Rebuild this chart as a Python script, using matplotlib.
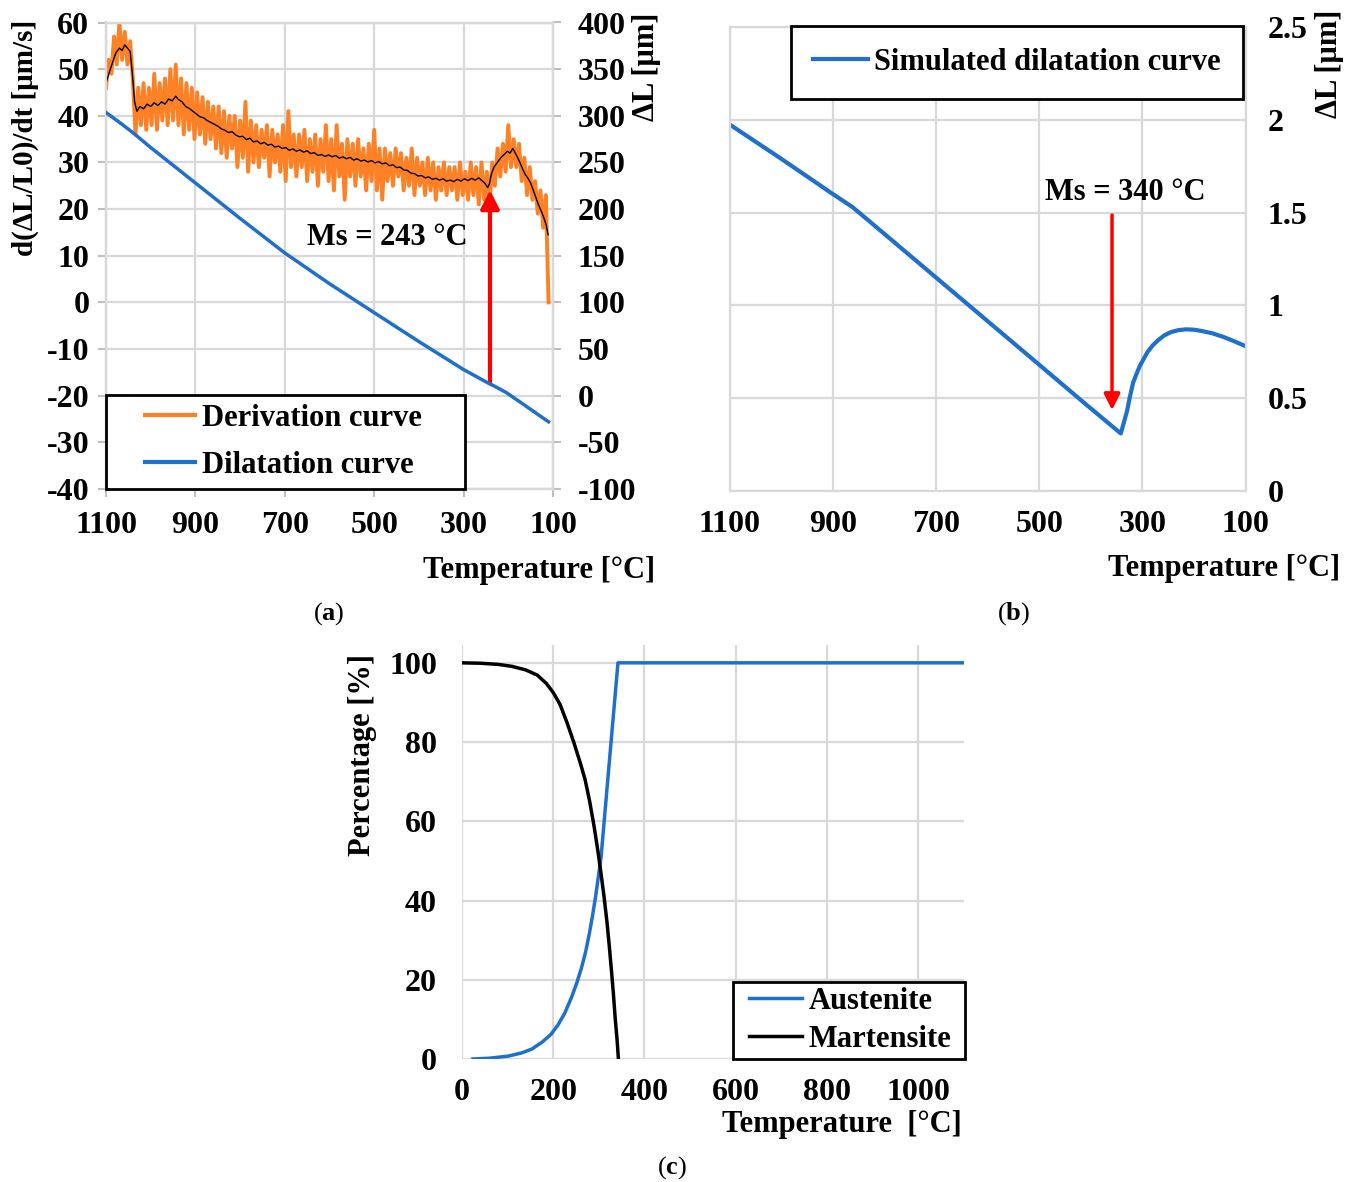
import numpy as np
import matplotlib
matplotlib.use("Agg")
import matplotlib.pyplot as plt
from matplotlib.lines import Line2D
from matplotlib.legend_handler import HandlerLine2D

plt.rcParams['font.family'] = ['Liberation Serif', 'DejaVu Serif']
plt.rcParams['font.weight'] = 'bold'
plt.rcParams['axes.labelweight'] = 'bold'
plt.rcParams['axes.unicode_minus'] = False
plt.rcParams['mathtext.fontset'] = 'custom'
plt.rcParams['mathtext.bf'] = 'Liberation Serif:bold'
plt.rcParams['mathtext.rm'] = 'Liberation Serif'

ORANGE = '#ff8126'
BLUE = '#1f6fcc'
GRID = '#d9d9d9'

# ---------------- data: panel (a) ----------------
# raw derivative (noisy) values, every 6 degC from 1100 down to 110
deriv_raw = [46, 52, 49, 57, 51, 60, 52, 58, 51, 56,
             48, 36, 46, 38, 47, 37, 46, 38, 49, 37, 47, 39, 48, 38, 50, 39, 51,
             38, 48, 36, 47, 37, 46, 35,
             45, 36, 44, 34, 43, 35, 42, 33, 42, 32,
             41, 31, 40, 33, 40, 29, 39, 31, 43, 28, 39,
             30, 38, 29, 37, 31, 38, 27, 37, 30, 36, 28, 38, 26,
             41, 29, 36, 27, 36, 29, 37, 26, 35, 28, 36, 25, 35, 28, 38, 26,
             35, 24, 38, 27, 34, 22, 35, 27, 34, 25, 35, 27, 33, 24, 34, 26, 37, 24, 33, 22,
             33, 26, 32, 25, 33, 27, 32, 24, 31, 25, 33, 23, 31, 25, 30, 23, 31, 24, 30, 22, 29, 24, 30, 23, 29,
             24, 29, 22, 30, 23, 28, 22, 30, 23, 29, 21, 30, 22, 28,
             21, 30, 25, 33, 27, 34, 28, 38, 29, 35,
             29, 34, 26, 31, 23, 29, 22, 26, 19, 24, 16, 23, 0]
deriv_raw_T = np.arange(1100, 1100 - 6 * len(deriv_raw), -6)

# smoothed derivative (T, value)
deriv_smooth = [(1100, 47), (1092, 49.5), (1085, 51.5), (1078, 53.5), (1070, 54.5), (1064, 54),
                (1058, 55.2), (1052, 54.5), (1046, 53.8), (1041, 49), (1036, 43), (1031, 41),
                (1024, 42), (1016, 41.5), (1008, 42.5), (1000, 42), (992, 42.8), (984, 42.2),
                (976, 43), (968, 42.5), (960, 43.6), (952, 43.2), (944, 44.2), (938, 43.5),
                (930, 43), (922, 42), (914, 41.6), (906, 41), (898, 40.4), (890, 39.8),
                (882, 39.6), (874, 39), (866, 38.6), (858, 38.2), (850, 37.8), (842, 37.2),
                (834, 36.9), (826, 36.4), (818, 36.6), (810, 35.9), (802, 35.5), (794, 35.6),
                (786, 34.9), (778, 35.2), (770, 34.4), (762, 34.6), (754, 34), (746, 34.3),
                (738, 33.7), (730, 33.9), (722, 33.3), (714, 33.5), (706, 33), (698, 33.2),
                (690, 32.6), (682, 32.9), (674, 32.4), (666, 32.7), (658, 32.2), (650, 32.5),
                (642, 31.9), (634, 32.1), (626, 31.5), (618, 31.7), (610, 31.3), (602, 31.6),
                (594, 31.2), (586, 31.5), (578, 30.9), (570, 31.2), (562, 30.8), (554, 31.1),
                (546, 30.5), (538, 30.8), (530, 30.3), (522, 30.5), (514, 30.1), (506, 30.4),
                (498, 29.9), (490, 30.2), (482, 29.7), (474, 29.9), (466, 29.3), (458, 29.5),
                (450, 28.9), (442, 29), (434, 28.4), (426, 28.3), (418, 27.7), (410, 27.6),
                (402, 27.1), (394, 27.2), (386, 26.7), (378, 26.9), (370, 26.4), (362, 26.6),
                (354, 26.2), (346, 26.5), (338, 26), (330, 26.2), (322, 25.9), (314, 26.4),
                (306, 26), (298, 26.5), (290, 26.1), (282, 26.6), (274, 26.2), (266, 26.7),
                (258, 26), (252, 25.5), (246, 24.6), (242, 25.5), (238, 27.5), (232, 29),
                (226, 29.8), (220, 30.6), (214, 31.3), (208, 31.8), (202, 32.4), (196, 32),
                (190, 33), (186, 32.3), (180, 31.2), (174, 30), (168, 28.6), (162, 27.4),
                (156, 26.6), (150, 25.6), (144, 24), (138, 22.4), (132, 20.8), (126, 19.5),
                (120, 18), (115, 16.5), (111, 14.5)]

# measured dilatation curve (right axis, um)
dil_T = [1100, 1070, 1040, 1000, 900, 800, 700, 600, 500, 400, 300, 243, 230, 205, 170, 140, 110]
dil_v = [303.5, 293, 282, 266, 228, 190, 153, 120, 89, 58, 28, 13, 10, 3.5, -8, -18, -28]

# ---------------- data: panel (b) ----------------
sim_T = [1100, 1000, 900, 862, 800, 700, 600, 500, 411, 342, 338, 334, 330, 325, 318, 311, 305,
         298, 290, 280, 270, 258, 245, 230, 215, 200, 185, 165, 145, 125, 100]
sim_v = [1.975, 1.79, 1.60, 1.53, 1.385, 1.15, 0.915, 0.68, 0.47, 0.31, 0.35, 0.39, 0.43, 0.50,
         0.585, 0.635, 0.675, 0.71, 0.75, 0.785, 0.812, 0.838, 0.856, 0.867, 0.871, 0.869,
         0.862, 0.85, 0.832, 0.81, 0.78]

# ---------------- data: panel (c) ----------------
aus_T = [24, 60, 100, 130, 153, 175, 195, 210, 225, 240, 252, 262, 271, 279, 286, 293, 299, 305,
         312, 320, 328, 335, 342, 1100]
aus_v = [0, 0.2, 0.7, 1.5, 2.5, 4.2, 6.2, 8.5, 11.5, 15.5, 19.3, 23, 27, 31.5, 36, 41, 46, 51,
         60.3, 70.9, 81.5, 90.7, 100, 100]
mar_T = [0, 40, 80, 110, 140, 165, 185, 200, 215, 230, 245, 260, 270, 280, 290, 298, 305, 312,
         318, 323, 328, 332, 336, 340, 343]
mar_v = [100, 99.9, 99.6, 99.1, 98.2, 96.9, 94.8, 92.5, 89.5, 85, 80, 74.5, 70.5, 65, 58.5,
         52.5, 46.7, 40.5, 34.5, 28.5, 22, 16.5, 10.2, 5, 0]

W, H = 1360, 1182
fig = plt.figure(figsize=(W / 100, H / 100), dpi=100)


def frac(l, t, r, b):
    return [l / W, 1 - b / H, (r - l) / W, (b - t) / H]


FS = 22
TFS = 23

# ================= panel (a) =================
ax = fig.add_axes(frac(106, 22.5, 553, 489))
ax.set_xlim(1100, 100)
ax.set_ylim(-40, 60)
ax.set_xticks([1100, 900, 700, 500, 300, 100])
ax.set_yticks(np.arange(-40, 61, 10))
ax.grid(True, color=GRID, lw=1.6)
ax.set_axisbelow(True)
for s in ax.spines.values():
    s.set_color(GRID)
    s.set_linewidth(1.6)
ax.tick_params(axis='both', colors='#bfbfbf', length=6, width=1.5, labelsize=TFS, labelcolor='black')
ax.tick_params(axis='y', pad=6)
ax.tick_params(axis='x', pad=10)

ax.plot(deriv_raw_T, deriv_raw, color=ORANGE, lw=2.8, zorder=3)
sm_T = [p[0] for p in deriv_smooth]
sm_v = [p[1] for p in deriv_smooth]
ax.plot(sm_T, sm_v, color='black', lw=1.0, zorder=4)

ax.annotate('', xy=(241, 24.1), xytext=(241, -17.2),
            arrowprops=dict(arrowstyle='-|>', color='red', lw=3, mutation_scale=28,
                            shrinkA=0, shrinkB=0), zorder=5)
ax.text(292, 13.9, 'Ms = 243 °C', ha='right', va='center', fontsize=FS)

ax.set_ylabel('d(ΔL/L0)/dt [μm/s]', fontsize=21)
ax.yaxis.set_label_coords(-0.181, 0.753)
ax.yaxis.label.set_va('center')
ax.set_xlabel('Temperature [°C]', fontsize=FS)
ax.xaxis.set_label_coords(1.228, -0.174)
ax.xaxis.label.set_ha('right')
ax.xaxis.label.set_va('center')

ax2 = ax.twinx()
ax2.set_ylim(-100, 400)
ax2.set_yticks(np.arange(-100, 401, 50))
for s in ax2.spines.values():
    s.set_color(GRID)
    s.set_linewidth(1.6)
ax2.tick_params(axis='y', colors='#bfbfbf', length=6, width=1.5, labelsize=TFS,
                labelcolor='black', pad=12)
ax2.plot(dil_T, dil_v, color=BLUE, lw=2.5, zorder=3)
ax2.set_ylabel('ΔL [μm]', fontsize=FS, rotation=90)
ax2.yaxis.set_label_coords(1.21, 0.905)
ax2.yaxis.label.set_va('center')
ax2.yaxis.label.set_ha('center')
ax2.yaxis.label.set_rotation_mode('anchor')

handles_a = [Line2D([], [], color=ORANGE, lw=3), Line2D([], [], color=BLUE, lw=3)]
leg_a = ax2.legend(handles_a, ['Derivation curve', 'Dilatation curve'], loc='lower left',
                   bbox_to_anchor=(0, 0, 0.803, 0.2), mode='expand', borderaxespad=0,
                   borderpad=0.3, labelspacing=0.59, handlelength=2.62, handletextpad=0.23,
                   fontsize=FS, fancybox=False, framealpha=1, edgecolor='black',
                   handler_map={Line2D: HandlerLine2D(xpad=0.98)})
leg_a.get_frame().set_linewidth(2)

# ================= panel (b) =================
bx = fig.add_axes(frac(729.6, 27, 1245.7, 491))
bx.set_xlim(1100, 100)
bx.set_ylim(0, 2.5)
bx.set_xticks([1100, 900, 700, 500, 300, 100])
bx.set_yticks([0, 0.5, 1, 1.5, 2, 2.5])
bx.set_yticklabels(['0', '0.5', '1', '1.5', '2', '2.5'])
bx.yaxis.tick_right()
bx.grid(True, color=GRID, lw=1.6)
bx.set_axisbelow(True)
for s in bx.spines.values():
    s.set_color(GRID)
    s.set_linewidth(1.6)
bx.tick_params(axis='both', length=0, labelsize=TFS)
bx.tick_params(axis='y', pad=16)
bx.tick_params(axis='x', pad=14)
bx.plot(sim_T, sim_v, color=BLUE, lw=3)
bx.annotate('', xy=(359, 0.436), xytext=(359, 1.487),
            arrowprops=dict(arrowstyle='-|>', color='red', lw=2.5, mutation_scale=24,
                            shrinkA=0, shrinkB=0))
bx.text(334, 1.61, 'Ms = 340 °C', ha='center', va='center', fontsize=FS)
bx.set_xlabel('Temperature [°C]', fontsize=FS)
bx.xaxis.set_label_coords(1.183, -0.166)
bx.xaxis.label.set_ha('right')
bx.xaxis.label.set_va('center')
bx.yaxis.set_label_position('right')
bx.set_ylabel('ΔL [μm]', fontsize=FS, rotation=90)
bx.yaxis.set_label_coords(1.163, 0.92)
bx.yaxis.label.set_va('center')
bx.yaxis.label.set_ha('center')
bx.yaxis.label.set_rotation_mode('anchor')
leg_b = bx.legend([Line2D([], [], color=BLUE, lw=3)], ['Simulated dilatation curve'],
                  loc='upper right', bbox_to_anchor=(0.995, 1.002), borderaxespad=0,
                  borderpad=0.72, handlelength=1.8, handletextpad=0.2, fontsize=FS,
                  fancybox=False, framealpha=1, edgecolor='black')
leg_b.get_frame().set_linewidth(2)

# ================= panel (c) =================
cx = fig.add_axes(frac(462, 645, 963.6, 1059))
cx.set_xlim(0, 1100)
cx.set_ylim(0, 104.5)
cx.set_xticks([0, 200, 400, 600, 800, 1000])
cx.set_yticks([0, 20, 40, 60, 80, 100])
cx.grid(True, color=GRID, lw=1.6)
cx.set_axisbelow(True)
for s in cx.spines.values():
    s.set_visible(False)
cx.tick_params(axis='both', length=0, labelsize=TFS)
cx.tick_params(axis='y', pad=18)
cx.tick_params(axis='x', pad=14)
cx.plot(aus_T, aus_v, color=BLUE, lw=2.5, label='Austenite')
cx.plot(mar_T, mar_v, color='black', lw=2.5, label='Martensite')
cx.set_ylabel('Percentage [%]', fontsize=FS)
cx.yaxis.set_label_coords(-0.199, 0.734)
cx.yaxis.label.set_va('center')
cx.set_xlabel('Temperature  [°C]', fontsize=FS)
cx.xaxis.set_label_coords(0.997, -0.159)
cx.xaxis.label.set_ha('right')
cx.xaxis.label.set_va('center')
leg_c = cx.legend(loc='lower right', bbox_to_anchor=(0.5405, 0, 0.4625, 0.2), mode='expand',
                  borderaxespad=0, borderpad=0.16, labelspacing=0.3, handlelength=2.11,
                  handletextpad=0.2, fontsize=FS, fancybox=False, framealpha=1,
                  edgecolor='black', handler_map={Line2D: HandlerLine2D(xpad=0.37)})
leg_c.get_frame().set_linewidth(2)

# panel labels
fig.text(329 / W, 1 - 614 / H, r'($\mathbf{a}$)', ha='center', va='center', fontsize=19, fontweight='normal')
fig.text(1014 / W, 1 - 614 / H, r'($\mathbf{b}$)', ha='center', va='center', fontsize=19, fontweight='normal')
fig.text(672 / W, 1 - 1168 / H, r'($\mathbf{c}$)', ha='center', va='center', fontsize=19, fontweight='normal')

fig.savefig('out.png', dpi=100)
